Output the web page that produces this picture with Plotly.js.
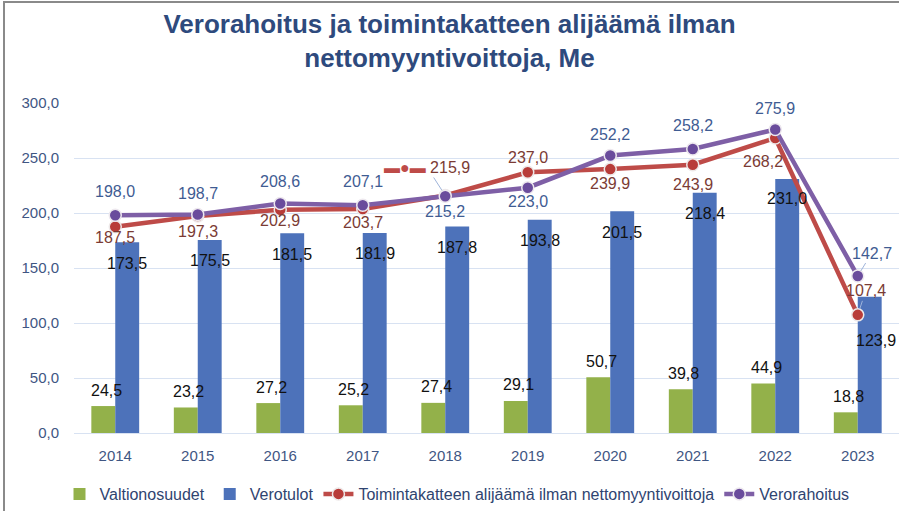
<!DOCTYPE html>
<html>
<head>
<meta charset="utf-8">
<script src="https://cdn.plot.ly/plotly-3.0.1.min.js"></script>
<style>
  html, body { margin: 0; padding: 0; background: #fff; }
  #wrap { position: relative; width: 899px; height: 511px; overflow: hidden; }
  #chart { width: 899px; height: 511px; }
  #frame { position: absolute; left: 3px; top: 1px; width: 920px; height: 540px;
           border-left: 2px solid #8a8a8a; border-top: 2px solid #8a8a8a; pointer-events: none; }
</style>
</head>
<body>
<div id="wrap">
  <div id="chart"></div>
  <div id="frame"></div>
</div>
<script>
// ---- data ----
const years = [2014, 2015, 2016, 2017, 2018, 2019, 2020, 2021, 2022, 2023];
const valtionosuudet = [24.5, 23.2, 27.2, 25.2, 27.4, 29.1, 50.7, 39.8, 44.9, 18.8];
const verotulot = [173.5, 175.5, 181.5, 181.9, 187.8, 193.8, 201.5, 218.4, 231.0, 123.9];
const alijaama = [187.5, 197.3, 202.9, 203.7, 215.9, 237.0, 239.9, 243.9, 268.2, 107.4];
const verorahoitus = [198.0, 198.7, 208.6, 207.1, 215.2, 223.0, 252.2, 258.2, 275.9, 142.7];
const yTicks = [0, 50, 100, 150, 200, 250, 300];

// ---- styling / label placement ----
const FONT = 'Liberation Sans, Arial, sans-serif';
const GREEN = '#93B14A', BLUE = '#4D72BA', RED = '#BE4B48', PURPLE = '#7E5FA6';
const RED_TXT = '#7B3B34', PURPLE_TXT = '#3F5C93', AXIS_TXT = '#3F5683';
const LBL_SIZE = 16;
const BW = 0.29;
// [xshift, yshift(up), mode]
const purplePos = [[0,24],[0,21],[0,22],[0,24],[0,-15],[0,-14],[0,21],[0,23],[0,21],[14,23,'arrow']];
const redPos = [[0,-11],[0,-16],[0,-11],[0,-14],[-18,28,'key'],[0,15],[0,-14],[0,-20],[-12,-24],[8,24,'arrow']];
const bluePos = [[0,-21],[0,-21],[0,-21],[0,-21],[0,-21],[0,-21],[0,-21],[0,-21],[0,-20],[6,-44]];

const fmt = v => v.toFixed(1).replace('.', ',');

const traces = [
  { type: 'bar', name: 'Valtionosuudet', x: years, y: valtionosuudet,
    width: BW, offset: -BW, marker: { color: GREEN }, hoverinfo: 'skip' },
  { type: 'bar', name: 'Verotulot', x: years, y: verotulot,
    width: BW, offset: 0, marker: { color: BLUE }, hoverinfo: 'skip' },
  { type: 'scatter', mode: 'lines+markers', name: 'Toimintakatteen alijäämä ilman nettomyyntivoittoja',
    x: years, y: alijaama, line: { color: RED, width: 4.5 },
    marker: { color: '#B83C39', size: 12, line: { color: '#EDE8E8', width: 1.5 } }, hoverinfo: 'skip' },
  { type: 'scatter', mode: 'lines+markers', name: 'Verorahoitus',
    x: years, y: verorahoitus, line: { color: PURPLE, width: 4.5 },
    marker: { color: '#6A4C9C', size: 12, line: { color: '#EDE8EE', width: 1.5 } }, hoverinfo: 'skip' }
];

const annotations = [];
function lineLabel(x, y, pos, color, keyColor) {
  const [dx, dy, mode] = pos;
  let text = fmt(y);
  const font = { family: FONT, size: LBL_SIZE, color: color };
  if (mode === 'key') {
    text = '<span style="color:' + keyColor + '">▬●▬</span> ' + text;
  }
  if (mode === 'arrow' || mode === 'key') {
    annotations.push({ x: x, y: y, xref: 'x', yref: 'y', text: text, font: font,
      showarrow: true, ax: dx, ay: -dy, arrowhead: 0, arrowwidth: 1,
      arrowcolor: '#9FB4DA', standoff: 6 });
  } else {
    annotations.push({ x: x, y: y, xref: 'x', yref: 'y', text: text, font: font,
      showarrow: false, xshift: dx, yshift: dy });
  }
}
years.forEach((yr, i) => {
  // green bar labels (above bar)
  annotations.push({ x: yr - BW / 2, y: valtionosuudet[i], xref: 'x', yref: 'y',
    text: fmt(valtionosuudet[i]), showarrow: false, xshift: 3, yshift: 16,
    font: { family: FONT, size: LBL_SIZE, color: '#111' } });
  // blue bar labels (inside top)
  annotations.push({ x: yr + BW / 2, y: verotulot[i], xref: 'x', yref: 'y',
    text: fmt(verotulot[i]), showarrow: false, xshift: bluePos[i][0], yshift: bluePos[i][1],
    font: { family: FONT, size: LBL_SIZE, color: '#111' } });
  lineLabel(yr, alijaama[i], redPos[i], RED_TXT, RED);
  lineLabel(yr, verorahoitus[i], purplePos[i], PURPLE_TXT, RED);
});

const layout = {
  width: 899, height: 511,
  margin: { l: 74, r: 0, t: 103, b: 78 },
  paper_bgcolor: '#fff', plot_bgcolor: '#fff',
  separators: ', ',
  barmode: 'overlay',
  font: { family: FONT, size: 15, color: AXIS_TXT },
  title: {
    text: 'Verorahoitus ja toimintakatteen alijäämä ilman<br>nettomyyntivoittoja, Me',
    font: { family: FONT, size: 26, color: '#2E4A7D', weight: 'bold' },
    x: 0.5, xref: 'container', xanchor: 'center',
    y: 1 - 33 / 511, yref: 'container', yanchor: 'middle'
  },
  xaxis: {
    type: 'linear', range: [2013.5, 2023.5],
    tickvals: years, ticktext: years.map(String),
    showgrid: false, zeroline: false, showline: false, ticks: '',
    tickfont: { family: FONT, size: 15, color: AXIS_TXT },
    ticklabelstandoff: 12, fixedrange: true
  },
  yaxis: {
    range: [0, 300], tickvals: yTicks, tickformat: '.1f',
    showgrid: true, gridcolor: '#D8E2F2', gridwidth: 1,
    zeroline: true, zerolinecolor: '#D8E2F2', zerolinewidth: 1,
    showline: false, ticks: '',
    tickfont: { family: FONT, size: 15, color: AXIS_TXT },
    ticklabelstandoff: 14, fixedrange: true
  },
  showlegend: true,
  legend: {
    orientation: 'h', xref: 'container', yref: 'container',
    x: 457 / 899, xanchor: 'center', y: 1 - 494 / 511, yanchor: 'middle',
    font: { family: FONT, size: 16, color: '#2F4470' },
    itemwidth: 30, traceorder: 'normal', bgcolor: 'rgba(0,0,0,0)'
  },
  annotations: annotations
};

Plotly.newPlot('chart', traces, layout, { displayModeBar: false, staticPlot: true });
</script>
</body>
</html>
